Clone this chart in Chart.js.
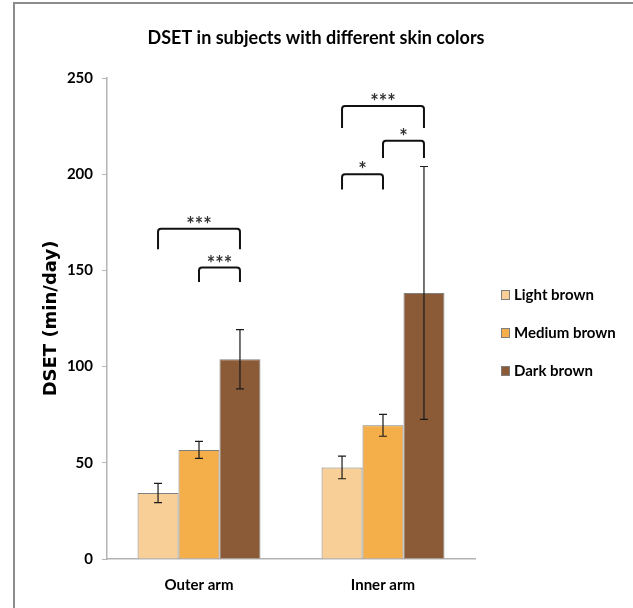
<!DOCTYPE html>
<html>
<head>
<meta charset="utf-8">
<script src="https://cdn.jsdelivr.net/npm/chart.js@4.4.1/dist/chart.umd.min.js"></script>
<style>
  html, body { margin: 0; padding: 0; background: #fff; overflow: hidden; }
  #frame { position: absolute; left: 13px; top: 2px; width: 700px; height: 700px; border: 2px solid #8c8c8c; }
  #dsetChart { position: absolute; left: 0; top: 0; }
</style>
</head>
<body>
<div id="frame"></div>
<canvas id="dsetChart" width="633" height="608"></canvas>
<script>
const categories = ['Outer arm', 'Inner arm'];
const seriesNames = ['Light brown', 'Medium brown', 'Dark brown'];
const lightBrown = [34.3, 47.6];
const mediumBrown = [56.7, 69.5];
const darkBrown = [103.8, 138.3];
const lightErr = [5.0, 5.9];
const mediumErr = [4.4, 5.7];
const darkErr = [15.4, 65.7];
const yMax = 250;
const yStep = 50;
const chartTitle = 'DSET in subjects with different skin colors';

// significance brackets: category, first bar, last bar, top value, leg end value
const brackets = [
    { cat: 0, from: 0, to: 2, top: 171.6, end: 161, label: '***' },
    { cat: 0, from: 1, to: 2, top: 151.5, end: 144, label: '***' },
    { cat: 1, from: 0, to: 2, top: 235.4, end: 224, label: '***' },
    { cat: 1, from: 1, to: 2, top: 217.4, end: 208.4, label: '*' },
    { cat: 1, from: 0, to: 1, top: 200, end: 192, label: '*' }
];

const barColors = ['#f8cf96', '#f5af4a', '#8b5a37'];
const errors = [lightErr, mediumErr, darkErr];
const FONT = 'Lato, "Open Sans", sans-serif';

// Error bars drawn on top of the bars
const errorBarPlugin = {
    id: 'errorBars',
    afterDatasetsDraw(chart) {
        const ctx = chart.ctx;
        const y = chart.scales.y;
        ctx.save();
        ctx.strokeStyle = '#1a1a1a';
        ctx.lineWidth = 1.2;
        chart.data.datasets.forEach((ds, i) => {
            chart.getDatasetMeta(i).data.forEach((bar, j) => {
                const v = ds.data[j];
                const e = errors[i][j];
                const yHi = y.getPixelForValue(v + e);
                const yLo = y.getPixelForValue(v - e);
                const x = bar.x;
                ctx.beginPath();
                ctx.moveTo(x, yHi); ctx.lineTo(x, yLo);
                ctx.moveTo(x - 4, yHi); ctx.lineTo(x + 4, yHi);
                ctx.moveTo(x - 4, yLo); ctx.lineTo(x + 4, yLo);
                ctx.stroke();
            });
        });
        ctx.restore();
    }
};

// Significance brackets with stars, plus the centred title
const bracketPlugin = {
    id: 'sigBrackets',
    afterDraw(chart) {
        const ctx = chart.ctx;
        const y = chart.scales.y;
        ctx.save();
        ctx.fillStyle = '#000';
        ctx.font = 'bold 18px ' + FONT;
        ctx.textAlign = 'center';
        ctx.textBaseline = 'middle';
        ctx.fillText(chartTitle, 316, 38);

        ctx.strokeStyle = '#111';
        ctx.lineWidth = 2;
        ctx.fillStyle = '#333';
        ctx.font = 'bold 20px ' + FONT;
        ctx.textBaseline = 'alphabetic';
        brackets.forEach(b => {
            const x1 = chart.getDatasetMeta(b.from).data[b.cat].x;
            const x2 = chart.getDatasetMeta(b.to).data[b.cat].x;
            const yt = y.getPixelForValue(b.top);
            const ye = y.getPixelForValue(b.end);
            const r = 3;
            ctx.beginPath();
            ctx.moveTo(x1, ye);
            ctx.lineTo(x1, yt + r);
            ctx.quadraticCurveTo(x1, yt, x1 + r, yt);
            ctx.lineTo(x2 - r, yt);
            ctx.quadraticCurveTo(x2, yt, x2, yt + r);
            ctx.lineTo(x2, ye);
            ctx.stroke();
            ctx.fillText(b.label, (x1 + x2) / 2, yt + 3);
        });
        ctx.restore();
    }
};

// Legend at the right side
const sideLegendPlugin = {
    id: 'sideLegend',
    afterDraw(chart) {
        const ctx = chart.ctx;
        const x0 = chart.chartArea.right + 26;
        const rowY = [295, 333, 371];
        ctx.save();
        ctx.font = 'bold 15px ' + FONT;
        ctx.textBaseline = 'middle';
        ctx.textAlign = 'left';
        chart.data.datasets.forEach((ds, i) => {
            const cy = rowY[i];
            ctx.fillStyle = ds.backgroundColor;
            ctx.fillRect(x0, cy - 5, 9, 10);
            ctx.strokeStyle = '#7f7f7f';
            ctx.lineWidth = 1;
            ctx.strokeRect(x0 + 0.5, cy - 4.5, 8, 9);
            ctx.fillStyle = '#000';
            ctx.fillText(ds.label, x0 + 13, cy);
        });
        ctx.restore();
    }
};

const ctx = document.getElementById('dsetChart').getContext('2d');
const dsetChart = new Chart(ctx, {
    type: 'bar',
    data: {
        labels: categories,
        datasets: [lightBrown, mediumBrown, darkBrown].map((vals, i) => ({
            label: seriesNames[i],
            data: vals,
            backgroundColor: barColors[i],
            borderColor: '#7f7f7f',
            borderWidth: 1,
            categoryPercentage: 0.668,
            barPercentage: 1.0
        }))
    },
    options: {
        responsive: false,
        animation: false,
        events: [],
        layout: {
            padding: { left: 0, right: 158, top: 78, bottom: 14 }
        },
        scales: {
            x: {
                afterFit(scale) { scale.height = 35; },
                grid: { display: false, drawTicks: false },
                border: { display: true, color: '#b3b3b3', width: 1.5 },
                ticks: {
                    color: '#000',
                    padding: 17,
                    font: { family: FONT, size: 15, weight: 'bold' }
                }
            },
            y: {
                min: 0,
                max: yMax,
                afterFit(scale) { scale.width = 107; },
                border: { display: true, color: '#b3b3b3', width: 1.5 },
                grid: { drawOnChartArea: false, drawTicks: true, tickLength: 5, color: '#b3b3b3' },
                ticks: {
                    stepSize: yStep,
                    color: '#000',
                    padding: 9,
                    font: { family: FONT, size: 15, weight: 'bold' }
                },
                title: {
                    display: true,
                    text: 'DSET (min/day)',
                    color: '#000',
                    padding: { top: 41, bottom: 0 },
                    font: { family: '"DejaVu Sans", sans-serif', size: 18, weight: 'bold' }
                }
            }
        },
        plugins: {
            legend: { display: false },
            tooltip: { enabled: false },
            title: { display: false }
        }
    },
    plugins: [errorBarPlugin, bracketPlugin, sideLegendPlugin]
});
</script>
</body>
</html>
